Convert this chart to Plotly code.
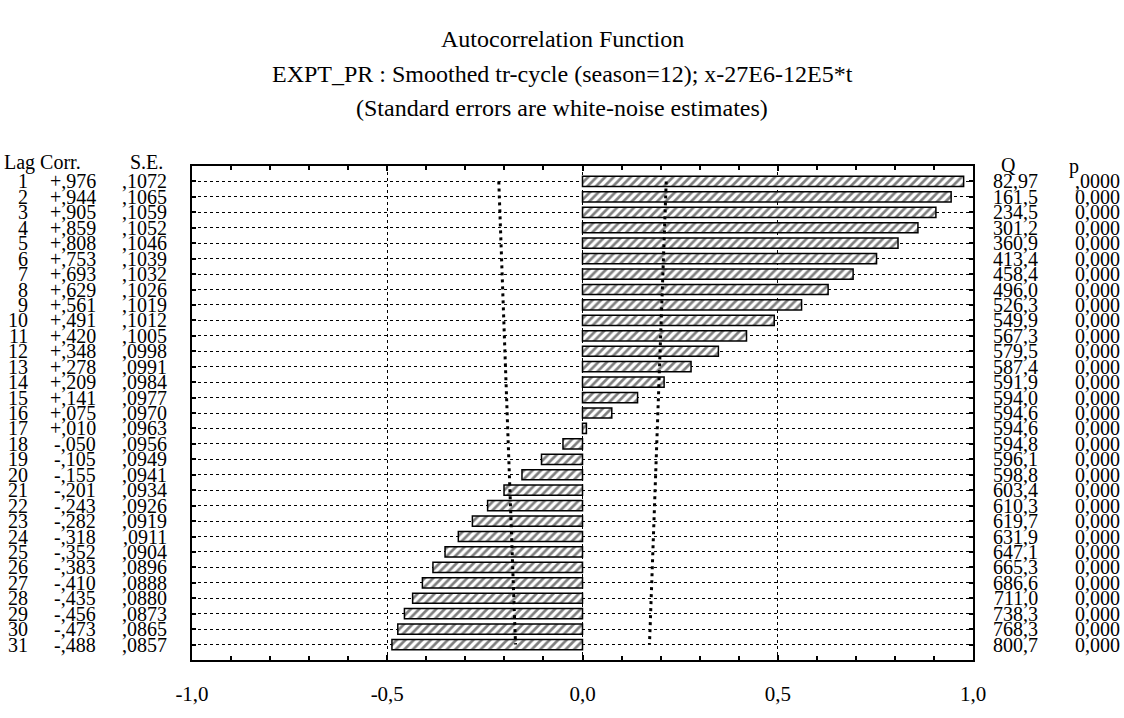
import plotly.graph_objects as go

lags = list(range(1, 32))
corr = [0.976, 0.944, 0.905, 0.859, 0.808, 0.753, 0.693, 0.629, 0.561, 0.491,
        0.420, 0.348, 0.278, 0.209, 0.141, 0.075, 0.010, -0.050, -0.105, -0.155,
        -0.201, -0.243, -0.282, -0.318, -0.352, -0.383, -0.410, -0.435, -0.456,
        -0.473, -0.488]
se = [0.1072, 0.1065, 0.1059, 0.1052, 0.1046, 0.1039, 0.1032, 0.1026, 0.1019,
      0.1012, 0.1005, 0.0998, 0.0991, 0.0984, 0.0977, 0.0970, 0.0963, 0.0956,
      0.0949, 0.0941, 0.0934, 0.0926, 0.0919, 0.0911, 0.0904, 0.0896, 0.0888,
      0.0880, 0.0873, 0.0865, 0.0857]
q = [82.97, 161.5, 234.5, 301.2, 360.9, 413.4, 458.4, 496.0, 526.3, 549.9,
     567.3, 579.5, 587.4, 591.9, 594.0, 594.6, 594.6, 594.8, 596.1, 598.8,
     603.4, 610.3, 619.7, 631.9, 647.1, 665.3, 686.6, 711.0, 738.3, 768.3, 800.7]
p_labels = [",0000", "0,000", "0,000", "0,000", "0,000", "0,000", "0,000",
            "0,000", "0,000", "0,000", "0,000", "0,000", "0,000", "0,000",
            "0,000", "0,000", "0,000", "0,000", "0,000", "0,000", "0,000",
            "0,000", "0,000", "0,000", "0,000", "0,000", "0,000", "0,000",
            "0,000", "0,000", "0,000"]
x_ticks = [-1.0, -0.5, 0.0, 0.5, 1.0]
x_ticktext = ["-1,0", "-0,5", "0,0", "0,5", "1,0"]

titles = ["Autocorrelation Function",
          "EXPT_PR : Smoothed tr-cycle (season=12); x-27E6-12E5*t",
          "(Standard errors are white-noise estimates)"]

W, H = 1124, 718
L, R, T, B = 192, 973, 166, 681


def px_x(px):
    return (px - L) / (R - L)


def px_y(py):
    return (B - py) / (B - T)


corr_txt = [("+" if c >= 0 else "-") + "," + f"{abs(c) * 1000:03.0f}" for c in corr]
se_txt = ["," + f"{s * 10000:04.0f}" for s in se]
q_txt = [(f"{v:.2f}" if v < 100 else f"{v:.1f}").replace(".", ",") for v in q]

fig = go.Figure()

fig.add_trace(go.Bar(
    x=corr, y=lags, orientation="h", width=0.66,
    marker=dict(color="white",
                line=dict(color="black", width=1.5),
                pattern=dict(shape="/", size=6, solidity=0.45,
                             fgcolor="black", bgcolor="white")),
    showlegend=False, hoverinfo="skip"))

upper = [2 * s for s in se]
lower = [-2 * s for s in se]
for xs in (upper, lower):
    fig.add_trace(go.Scatter(
        x=xs, y=lags, mode="lines",
        line=dict(color="black", width=3, dash="3px,4px"),
        showlegend=False, hoverinfo="skip"))

font_cell = dict(family="Liberation Serif", size=20, color="black")
ann = []
for i, lag in enumerate(lags):
    for txt, px in ((str(lag), 29), (corr_txt[i], 97), (se_txt[i], 168),
                    (q_txt[i], 1039), (p_labels[i], 1121)):
        ann.append(dict(x=px_x(px), xref="paper", y=lag, yref="y", text=txt,
                        showarrow=False, xanchor="right", yanchor="middle",
                        borderpad=0, font=font_cell))

for txt, px, py, anchor in (("Lag Corr.", 3, 162, "left"), ("S.E.", 129, 162, "left"),
                            ("Q", 1008, 165, "center"), ("p", 1074, 166, "center")):
    ann.append(dict(x=px_x(px), xref="paper", y=px_y(py), yref="paper", text=txt,
                    showarrow=False, xanchor=anchor, yanchor="middle", borderpad=0,
                    font=font_cell))

for txt, py in zip(titles, (34, 70, 106)):
    ann.append(dict(x=px_x(W / 2), xref="paper", xanchor="center", y=px_y(py),
                    yref="paper", yanchor="middle", text=txt, showarrow=False,
                    font=dict(family="Liberation Serif", size=24, color="black")))

fig.update_layout(
    width=W, height=H,
    margin=dict(l=L, r=W - R, t=T, b=H - B),
    paper_bgcolor="white", plot_bgcolor="white",
    annotations=ann,
    xaxis=dict(range=[-1, 1], tickvals=x_ticks, ticktext=x_ticktext,
               ticks="inside", ticklen=5, tickwidth=2, tickcolor="black",
               minor=dict(dtick=0.1, ticks="inside", ticklen=4, tickwidth=2,
                          tickcolor="black", showgrid=False),
               showgrid=True, gridcolor="black", griddash="dot", gridwidth=1,
               showline=True, linecolor="black", linewidth=2, mirror=True,
               zeroline=False, ticklabelstandoff=14,
               tickfont=dict(family="Liberation Serif", size=21, color="black"),
               fixedrange=True),
    xaxis2=dict(range=[-1, 1], overlaying="x", side="top", tickvals=x_ticks,
                ticks="inside", ticklen=5, tickwidth=2, tickcolor="black",
                minor=dict(dtick=0.1, ticks="inside", ticklen=4, tickwidth=2,
                           tickcolor="black"),
                showticklabels=False, showgrid=False, zeroline=False,
                showline=False),
    yaxis=dict(range=[32, 0], tickvals=lags, ticks="inside", ticklen=4,
               tickwidth=2, tickcolor="black", showticklabels=False,
               showgrid=True, gridcolor="black", griddash="dot", gridwidth=1,
               showline=True, linecolor="black", linewidth=2, mirror="ticks",
               zeroline=False, fixedrange=True),
)
fig.add_trace(go.Scatter(x=[None], y=[None], xaxis="x2", showlegend=False,
                         hoverinfo="skip"))

fig.write_html("out.html", config={"displayModeBar": False},
               post_script="document.body.style.margin='0px';"
                           "document.body.style.overflow='hidden';")
